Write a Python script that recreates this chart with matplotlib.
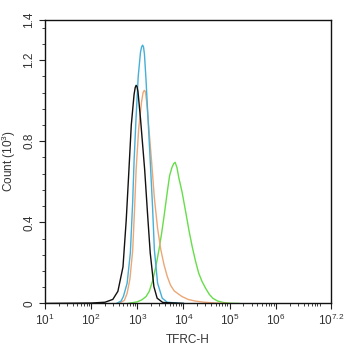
import matplotlib
matplotlib.use('Agg')
import matplotlib.pyplot as plt
from matplotlib.ticker import FixedLocator, MultipleLocator, LogLocator, NullFormatter
import numpy as np

plt.rcParams['font.family'] = 'Liberation Sans'
plt.rcParams['mathtext.fontset'] = 'custom'
plt.rcParams['mathtext.rm'] = 'Liberation Sans'

# histogram outlines, log10(TFRC-H) vs count (10^3)
black_lx = [1.0, 2.0, 2.3, 2.47, 2.58, 2.69, 2.76, 2.81, 2.87, 2.93, 2.955, 2.975, 2.995, 3.015, 3.07, 3.16, 3.22, 3.28, 3.36,
            3.43, 3.55, 4.0]
black_y = [0, 0.002, 0.006, 0.02, 0.06, 0.18, 0.41, 0.62, 0.88, 1.03, 1.065, 1.076, 1.068, 1.045, 0.91, 0.66, 0.45, 0.25, 0.083,
           0.026, 0.005, 0]

blue_lx = [2.55, 2.65, 2.70, 2.78, 2.85, 2.90, 2.93, 2.97, 3.02, 3.07, 3.095, 3.116, 3.135, 3.155, 3.19, 3.24, 3.29, 3.33, 3.37,
           3.44, 3.54, 3.65, 4.0]
blue_y = [0, 0.012, 0.035, 0.10, 0.25, 0.50, 0.70, 0.90, 1.12, 1.24, 1.266, 1.274, 1.265, 1.23, 1.10, 0.88, 0.66, 0.48, 0.265,
          0.10, 0.026, 0.006, 0]

orange_lx = [2.60, 2.72, 2.78, 2.84, 2.90, 2.94, 2.975, 3.03, 3.09, 3.125, 3.152, 3.175, 3.20, 3.22, 3.26, 3.31, 3.37, 3.44, 3.51,
             3.58, 3.65, 3.72, 3.80, 3.90, 3.97, 4.10, 4.25, 4.45, 4.70, 5.0]
orange_y = [0, 0.015, 0.05, 0.12, 0.26, 0.46, 0.66, 0.86, 0.99, 1.04, 1.051, 1.045, 1.00, 0.95, 0.84, 0.70, 0.52, 0.37, 0.265,
            0.19, 0.133, 0.09, 0.062, 0.045, 0.034, 0.02, 0.012, 0.006, 0.002, 0]

green_lx = [2.80, 3.0, 3.10, 3.19, 3.26, 3.33, 3.40, 3.47, 3.53, 3.58, 3.65, 3.70, 3.75, 3.79, 3.82, 3.86, 3.90, 3.97, 4.05, 4.12,
            4.19, 4.26, 4.33, 4.40, 4.48, 4.56, 4.64, 4.74, 4.86, 5.0, 5.2]
green_y = [0, 0.008, 0.018, 0.034, 0.06, 0.11, 0.18, 0.265, 0.35, 0.43, 0.55, 0.63, 0.67, 0.69, 0.696, 0.67, 0.62, 0.55, 0.45, 0.36,
           0.28, 0.21, 0.15, 0.11, 0.075, 0.045, 0.025, 0.012, 0.005, 0.001, 0]

x_ticks = [1, 2, 3, 4, 5, 6, 7.2]
x_tick_labels = ['1', '2', '3', '4', '5', '6', '7.2']
y_ticks = [0, 0.4, 0.8, 1.2, 1.4]
y_tick_labels = ['0', '0.4', '0.8', '1.2', '1.4']

text_color = '#333333'

fig = plt.figure(figsize=(3.46, 3.5), dpi=100)
ax = fig.add_axes([0.130, 0.133, 0.827, 0.811])

series = [(green_lx, green_y, '#66dd4a'),
          (orange_lx, orange_y, '#eba777'),
          (blue_lx, blue_y, '#45afd8'),
          (black_lx, black_y, '#111111')]
for lx, y, c in series:
    ax.plot(10 ** np.array(lx), y, color=c, lw=1.0)

ax.set_xscale('log')
ax.set_xlim(10 ** 1, 10 ** 7.2)
ax.set_ylim(0, 1.4)

ax.xaxis.set_major_locator(FixedLocator([10 ** t for t in x_ticks]))
ax.set_xticklabels(['10$^{\\mathregular{%s}}$' % s for s in x_tick_labels])
ax.xaxis.set_minor_locator(LogLocator(base=10, subs=np.arange(2, 10), numticks=20))
ax.xaxis.set_minor_formatter(NullFormatter())

ax.yaxis.set_major_locator(FixedLocator(y_ticks))
ax.set_yticklabels(y_tick_labels, rotation=90, va='center')
ax.yaxis.set_minor_locator(MultipleLocator(0.08))

ax.tick_params(which='major', direction='out', length=4, width=0.8, colors='#222222',
               labelsize=8.5, labelcolor=text_color, pad=3)
ax.tick_params(which='minor', direction='out', length=2, width=0.6, colors='#222222')

for s in ax.spines.values():
    s.set_linewidth(1.0)
    s.set_color('#111111')

ax.set_xlabel('TFRC-H', fontsize=8.5, color=text_color, labelpad=4)
ax.set_ylabel('Count (10$^{\\mathregular{3}}$)', fontsize=8.5, color=text_color, labelpad=4)

fig.savefig('out.png', dpi=100)
